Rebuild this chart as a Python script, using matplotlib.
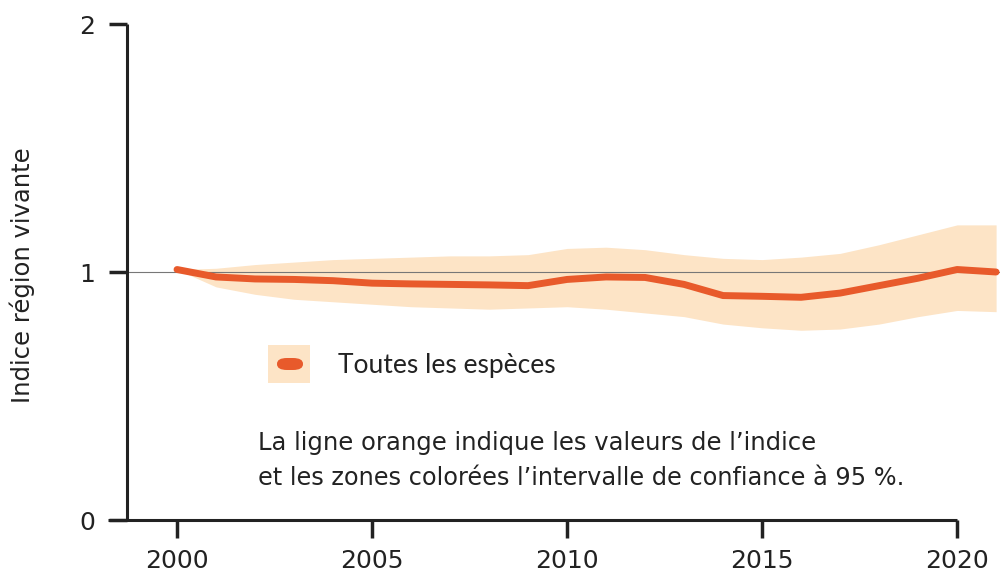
import matplotlib
matplotlib.use("Agg")
import matplotlib.pyplot as plt
from matplotlib.patches import Rectangle, FancyBboxPatch
import numpy as np

# values
years = list(range(2000, 2022))
index_vals = [1.01, 0.98, 0.972, 0.97, 0.965, 0.955, 0.952, 0.95, 0.948, 0.945, 0.97,
              0.98, 0.978, 0.95, 0.905, 0.902, 0.898, 0.915, 0.945, 0.975, 1.01, 1.0]
upper_ci = [1.01, 1.015, 1.03, 1.04, 1.05, 1.055, 1.06, 1.065, 1.065, 1.07, 1.095,
            1.10, 1.09, 1.07, 1.055, 1.05, 1.06, 1.075, 1.11, 1.15, 1.19, 1.19]
lower_ci = [1.01, 0.94, 0.91, 0.89, 0.88, 0.87, 0.86, 0.855, 0.85, 0.855, 0.86,
            0.85, 0.835, 0.82, 0.79, 0.775, 0.765, 0.77, 0.79, 0.82, 0.845, 0.84]
xticks = [2000, 2005, 2010, 2015, 2020]
yticks = [0, 1, 2]

line_col = "#E85A2B"
band_col = "#FDE4C6"
ink = "#222222"
wide = "DejaVu Sans"
narrow = "Lato"

W, H = 1002, 576
fig = plt.figure(figsize=(W / 100, H / 100), dpi=100)
x_left, x_right = 1998.23, 2021.1
ax = fig.add_axes([108 / W, (H - 520) / H, 892 / W, 496 / H])
ax.set_xlim(x_left, x_right)
ax.set_ylim(0, 2)

ax.fill_between(years, lower_ci, upper_ci, color=band_col, lw=0, zorder=1)
ax.hlines(1, 1998.72, x_right, color="#777777", lw=0.8, zorder=2)
ax.plot(years, index_vals, color=line_col, lw=5, solid_capstyle="round",
        solid_joinstyle="round", zorder=3)

for s in ["top", "right"]:
    ax.spines[s].set_visible(False)
ax.spines["left"].set_position(("data", 1998.72))
ax.spines["left"].set_bounds(0, 2)
ax.spines["bottom"].set_bounds(x_left, 2020)
for s in ["left", "bottom"]:
    ax.spines[s].set_linewidth(2.2)
    ax.spines[s].set_color(ink)
    ax.spines[s].set_capstyle("butt")

ax.set_xticks(xticks)
ax.set_yticks(yticks)
ax.tick_params(axis="both", length=13, width=2.5, color=ink, labelcolor=ink,
               labelsize=18)
ax.tick_params(axis="x", pad=8)
ax.tick_params(axis="y", pad=10)
for lab in ax.get_xticklabels() + ax.get_yticklabels():
    lab.set_family(wide)

fig.text(22 / W, (H - 275) / H, "Indice région vivante", rotation=90,
         ha="center", va="center", fontsize=17.5, color=ink, family=wide)

# legend
fig.patches.append(Rectangle((268 / W, (H - 383) / H), 42 / W, 38 / H,
                             transform=fig.transFigure, color=band_col, lw=0))
fig.patches.append(FancyBboxPatch((277 / W, (H - 370) / H), 26 / W, 12 / H,
                                  boxstyle="round,pad=0,rounding_size=0.01",
                                  transform=fig.transFigure, color=line_col, lw=0))
fig.text(338 / W, (H - 365) / H, "Toutes les espèces", ha="left", va="center",
         fontsize=19, color=ink, family=narrow)

fig.text(258 / W, (H - 443) / H, "La ligne orange indique les valeurs de l’indice",
         ha="left", va="center", fontsize=17.5, color=ink, family=wide)
fig.text(258 / W, (H - 478) / H,
         "et les zones colorées l’intervalle de confiance à 95 %.",
         ha="left", va="center", fontsize=17.3, color=ink, family=wide)

fig.savefig("out.png", dpi=100)
